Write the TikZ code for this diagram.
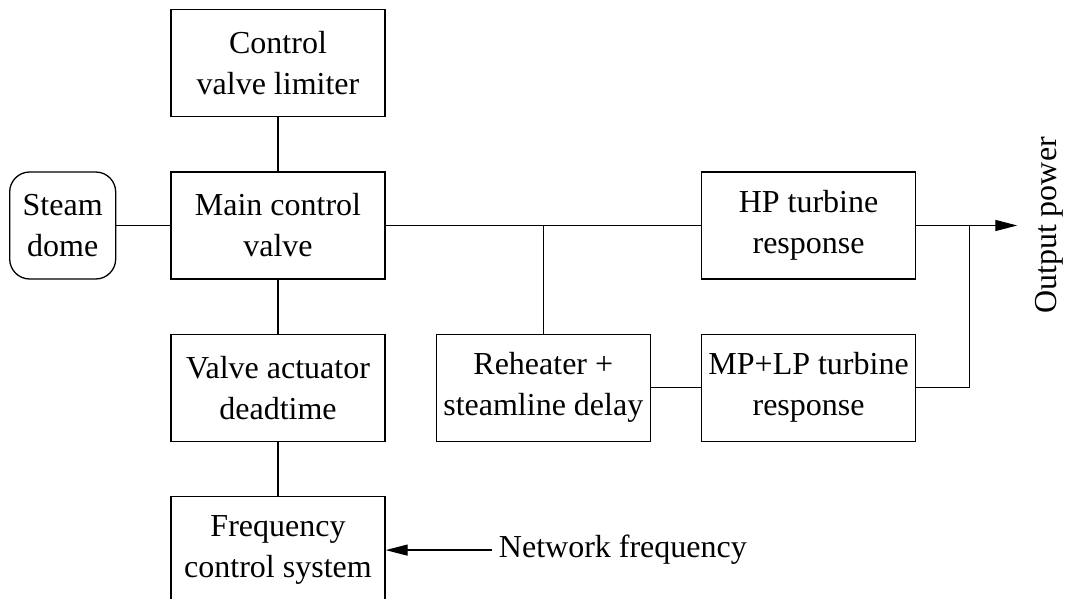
\documentclass[tikz,border=0pt]{standalone}
\usepackage{fontspec}
\setmainfont{Liberation Serif}
\usetikzlibrary{positioning,arrows.meta}

\begin{document}
\begin{tikzpicture}
    [every node/.style={font=\fontsize{16}{20.5}\selectfont},
    block/.style={draw, minimum width=107pt, minimum height=53.5pt, align=center, inner sep=2pt},
    dome/.style={draw, rounded corners=10pt, minimum width=53pt, minimum height=53.5pt, align=center, inner sep=1pt},
    arrowto/.style={-{Triangle[length=11pt,width=5.5pt]}},
    node distance=27pt, line width=0.65pt]
  \useasboundingbox (-139pt,112.75pt) rectangle (393.5pt,-186.75pt);
  \node [block] (mcv) at (0,0) {Main control\\ valve};
  \node [block] (cvl) [above=of mcv] {Control\\ valve limiter};
  \node [dome] (sd) [left=of mcv] {Steam\\ dome};
  \node [block] (vad) [below=of mcv] {Valve actuator\\ deadtime};
  \node [block] (fcs) [below=of vad] {Frequency\\ control system};
  \node [block] (rh) [right=25pt of vad] {Reheater +\\ steamline delay};
  \node [block] (mp) [right=25pt of rh] {MP+LP turbine\\ response};
  \node [block] (hp) [above=of mp] {HP turbine\\ response};
  \node (nf) [right=53pt of fcs] {Network frequency};
  \node [rotate=90] (op) at ([xshift=66.5pt]hp.east) {Output power};

  \coordinate (j1) at (rh.north |- mcv.east);
  \coordinate (j2) at ([xshift=26.5pt]hp.east);
  \coordinate (out) at ([xshift=50.5pt]hp.east);

  \draw [] (cvl) -- (mcv);
  \draw [] (sd) -- (mcv);
  \draw [] (mcv) -- (vad);
  \draw [] (vad) -- (fcs);
  \draw [] (mcv) -- (hp);
  \draw [] (j1) -- (rh);
  \draw [] (rh) -- (mp);
  \draw [arrowto] (hp) -- (out);
  \draw [] (mp) -| (j2);
  \draw [arrowto] (nf) -- (fcs);
\end{tikzpicture}
\end{document}
